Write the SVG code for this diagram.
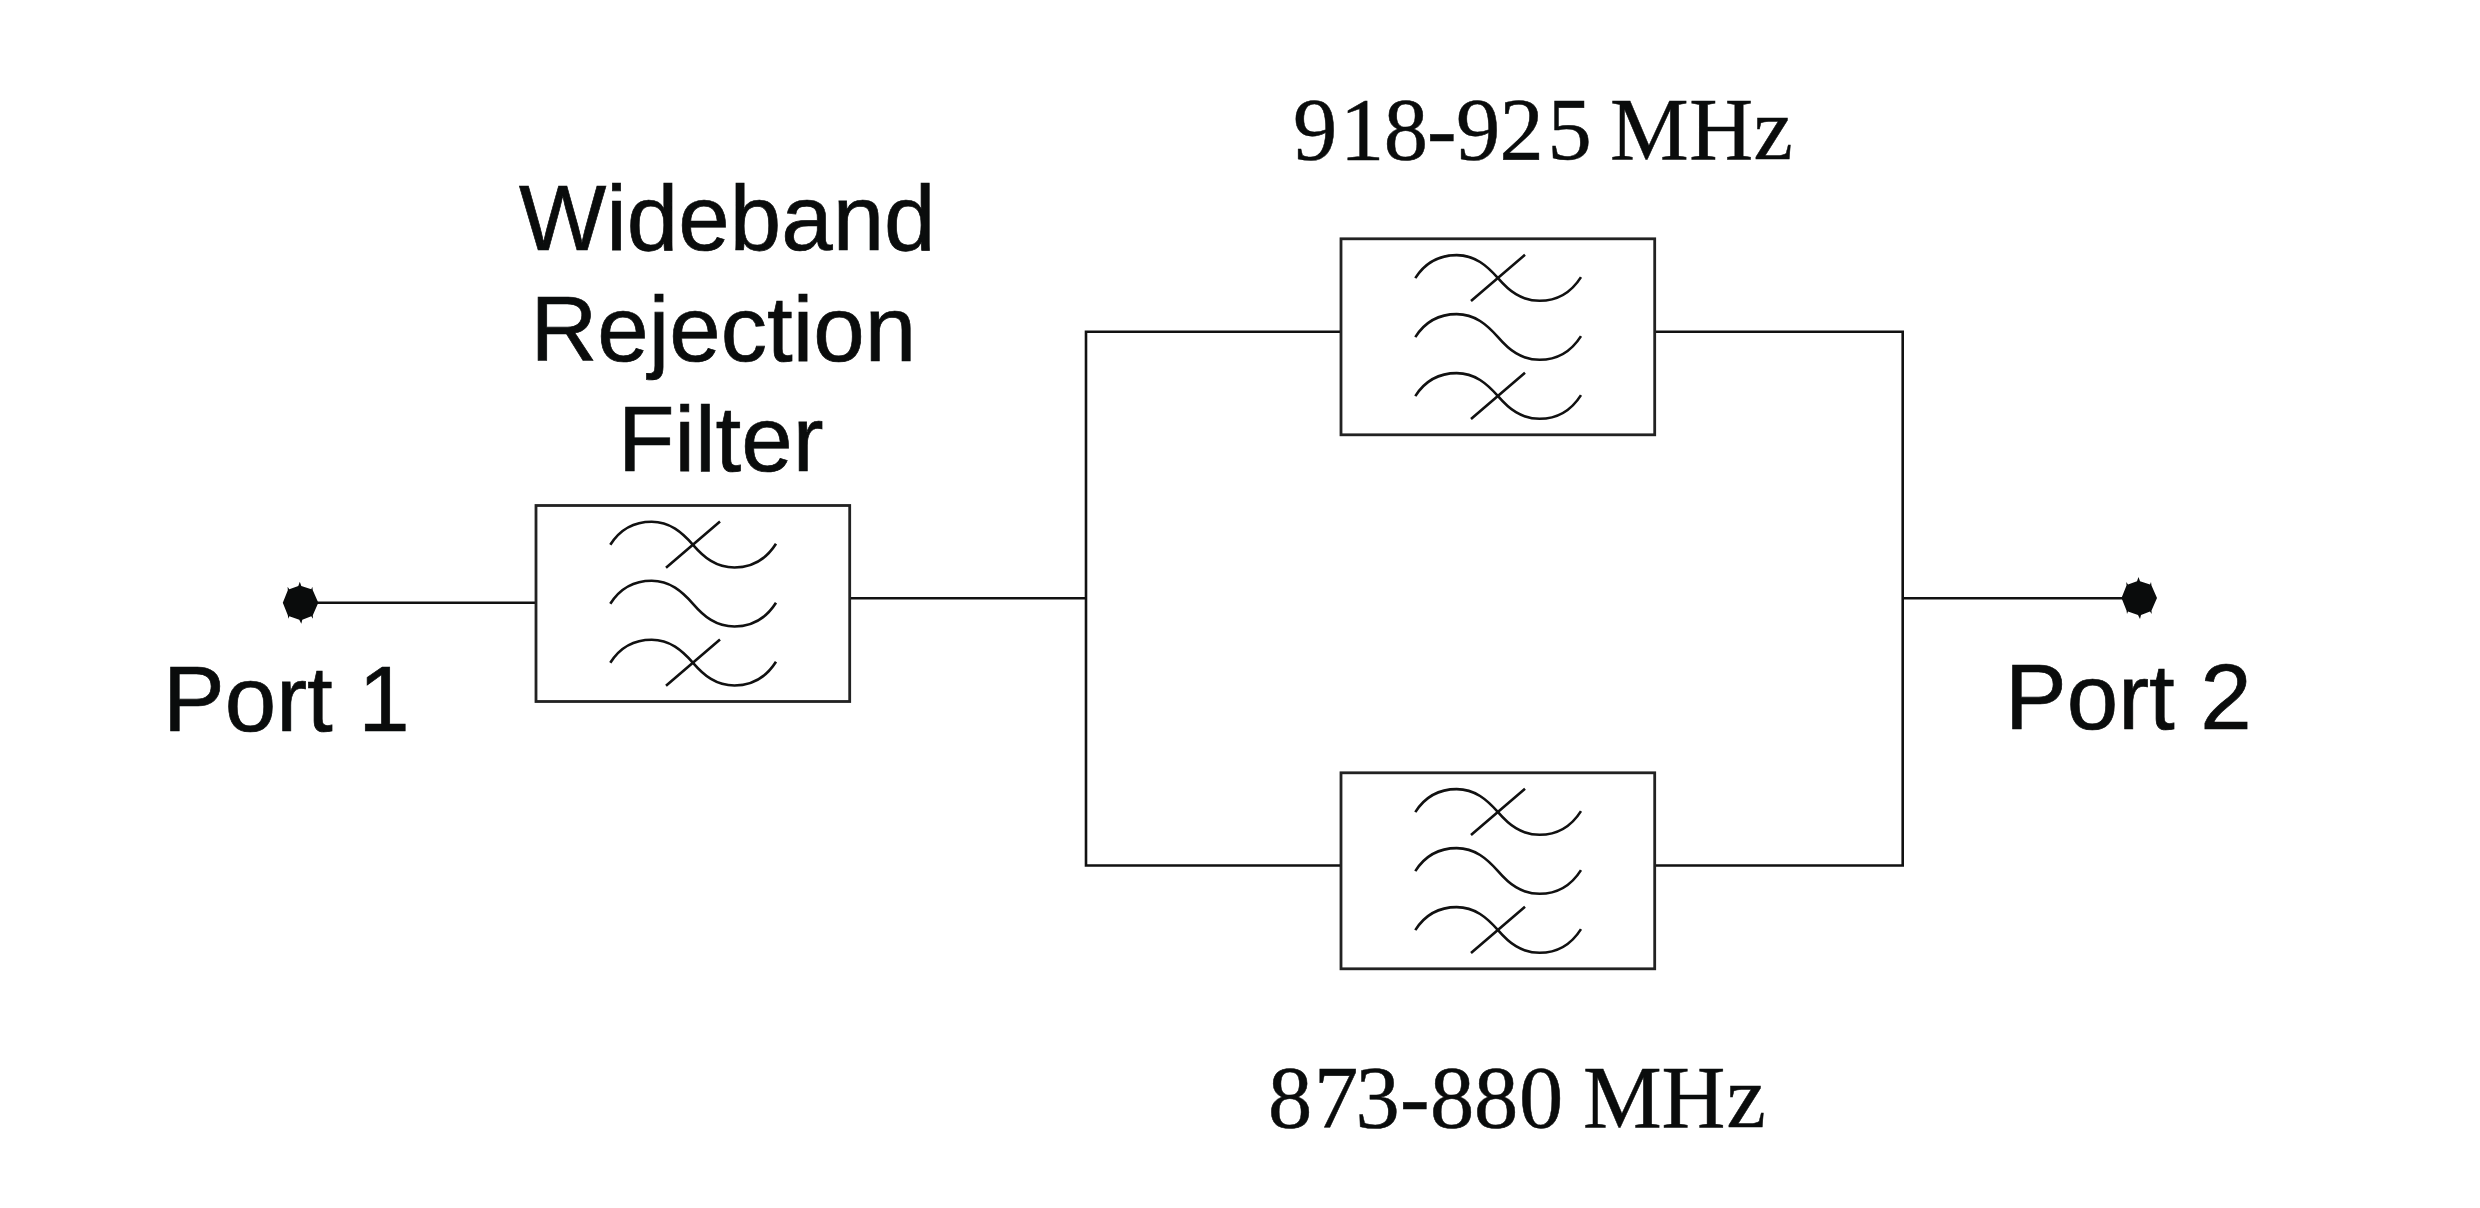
<svg xmlns="http://www.w3.org/2000/svg" xmlns:xlink="http://www.w3.org/1999/xlink" width="2480" height="1208" viewBox="0 0 2480 1208">
<style>
.ln{fill:none;stroke:#111;stroke-width:2.6}
.box{fill:none;stroke:#222;stroke-width:2.8}
.sans{font-family:"Liberation Sans",Arial,sans-serif;font-size:92.5px;fill:#0a0c0c;stroke:#0a0c0c;stroke-width:.7}
.serif{font-family:"Liberation Serif","Times New Roman",serif;font-size:88.5px;fill:#0a0c0c;stroke:#0a0c0c;stroke-width:.5}
.port{fill:#0a0c0c}
</style>
<defs>
<polygon id="dot" class="port" points="-17.500,0 -12.500,-12.500 -12.700,-16 -11,-13.500 -2,-16.700 -0.500,-21 1,-16.700 11,-13.500 12,-16 12.500,-12.500 18,0 12.500,12.500 12.700,16 11,13.500 2,17 1,21 -1,17 -11,13.500 -12,16 -12.500,12.500"/>
<path id="wave" class="ln" d="M74.300 39.300C84 24 99 16.300 115.700 16.300C134 16.300 146 27 157 39.300C168 52 180 62 198.500 62C215 62 230 54 240 38.300"/>
<g id="filter">
<rect class="box" x="0" y="0" width="313.700" height="196"/>
<use xlink:href="#wave" href="#wave"/>
<use xlink:href="#wave" href="#wave" y="59"/>
<use xlink:href="#wave" href="#wave" y="118"/>
<path class="ln" d="M130 62.300L184 16M130 180.300L184 134"/>
</g>
</defs>
<g id="connectors">
<path class="ln" d="M300 602.700H536"/>
<path class="ln" d="M850 598.300H1086"/>
<path class="ln" d="M1341 865.500H1086V331.800H1341"/>
<path class="ln" d="M1655 331.800H1902.700V865.500H1655"/>
<path class="ln" d="M1902.700 598.300H2139"/>
</g>
<g id="port1">
<use xlink:href="#dot" href="#dot" x="300.300" y="602.700"/>
<text class="sans" x="163" y="731">Port 1</text>
</g>
<g id="wideband-filter">
<use xlink:href="#filter" href="#filter" x="536" y="505.500"/>
<text class="sans" x="519" y="249.600">Wideband</text>
<text class="sans" x="530.500" y="360.700">Rejection</text>
<text class="sans" x="618" y="471.300">Filter</text>
</g>
<g id="filter-918">
<use xlink:href="#filter" href="#filter" x="1341" y="238.800"/>
<text class="serif" y="159.300" x="1293 1340 1383.700 1427 1456 1499.400 1547.600 1591 1610 1689.300 1753.600">918-925 MHz</text>
</g>
<g id="filter-873">
<use xlink:href="#filter" href="#filter" x="1341" y="772.800"/>
<text class="serif" y="1127.300" x="1268 1314 1355.500 1400 1430 1474 1519 1563 1583 1661.500 1726.500">873-880 MHz</text>
</g>
<g id="port2">
<use xlink:href="#dot" href="#dot" x="2139" y="598"/>
<text class="sans" x="2005" y="729">Port 2</text>
</g>
</svg>
